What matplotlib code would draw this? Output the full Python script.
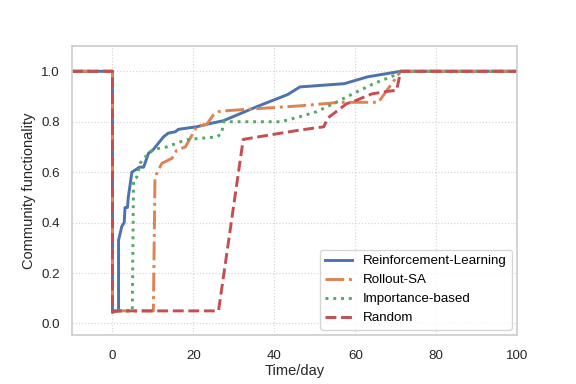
import matplotlib
matplotlib.use("Agg")
import matplotlib.pyplot as plt

plt.rcParams["font.family"] = ["Liberation Sans", "DejaVu Sans"]

# Series (time in days, community functionality)
rl_t = [-10, 0, 0, 1.5, 1.5, 2.3, 2.9, 3.1, 3.7, 3.9, 4.8, 6.7, 7.7, 8.9, 10.1,
        12.6, 13.8, 15.5, 16.3, 20.8, 24.1, 27.4, 35.7, 43.3, 46.3, 57.3, 63.0, 71.2, 100]
rl_y = [1.0, 1.0, 0.045, 0.05, 0.33, 0.385, 0.40, 0.46, 0.46, 0.50, 0.60, 0.62, 0.62, 0.675,
        0.69, 0.74, 0.755, 0.76, 0.77, 0.78, 0.793, 0.804, 0.86, 0.908, 0.938, 0.951,
        0.978, 1.0, 1.0]

sa_t = [-10, 0, 0, 0.5, 10.1, 10.5, 11.4, 12.2, 14.7, 15.9, 18.0, 19.2, 20.8, 23.3,
        24.9, 26.2, 27.4, 46.3, 56.2, 65.7, 68.5, 71.2, 100]
sa_y = [1.0, 1.0, 0.045, 0.05, 0.05, 0.58, 0.61, 0.635, 0.655, 0.688, 0.70, 0.734, 0.78,
        0.79, 0.826, 0.84, 0.843, 0.863, 0.877, 0.877, 0.94, 1.0, 1.0]

imp_t = [-10, 0, 0, 0.5, 4.9, 5.2, 6.0, 6.8, 8.1, 10.1, 13.4, 16.7, 18.8, 25.8, 27.0,
         27.4, 41.6, 46.3, 50.5, 54.6, 58.7, 61.2, 64.4, 70.6, 71.2, 100]
imp_y = [1.0, 1.0, 0.045, 0.05, 0.05, 0.57, 0.58, 0.635, 0.66, 0.69, 0.70, 0.72, 0.73,
         0.74, 0.754, 0.80, 0.80, 0.82, 0.84, 0.872, 0.905, 0.925, 0.95, 0.99, 1.0, 1.0]

rnd_t = [-10, 0, 0, 0.5, 26.2, 32.3, 36.0, 46.3, 52.2, 53.2, 57.9, 59.5, 64.0, 66.9,
         70.2, 71.2, 100]
rnd_y = [1.0, 1.0, 0.045, 0.05, 0.05, 0.73, 0.74, 0.767, 0.78, 0.815, 0.872, 0.88, 0.91,
         0.918, 0.925, 1.0, 1.0]

labels = ["Reinforcement-Learning", "Rollout-SA", "Importance-based", "Random"]
x_ticks = [0, 20, 40, 60, 80, 100]
y_ticks = [0.0, 0.2, 0.4, 0.6, 0.8, 1.0]

fig = plt.figure(figsize=(6, 4), dpi=96)
ax = fig.add_axes([0.125, 0.128, 0.773, 0.752])

ax.plot(rl_t, rl_y, color="#4c72b0", linestyle="-", linewidth=2.2, label=labels[0])
ax.plot(sa_t, sa_y, color="#dd8452", linestyle="-.", linewidth=2.2, label=labels[1])
ax.plot(imp_t, imp_y, color="#55a868", linestyle=":", linewidth=2.2, label=labels[2])
ax.plot(rnd_t, rnd_y, color="#c44e52", linestyle="--", linewidth=2.2, label=labels[3])

ax.set_xlim(-10, 100)
ax.set_ylim(-0.045, 1.1)
ax.set_xticks(x_ticks)
ax.set_yticks(y_ticks)
ax.set_xticklabels([str(v) for v in x_ticks])
ax.set_yticklabels([f"{v:.1f}" for v in y_ticks])
ax.tick_params(length=0, labelsize=10, colors="#262626")
ax.tick_params(axis="x", pad=11)
ax.tick_params(axis="y", pad=9)

ax.grid(True, color="#d5d5d5", linestyle=":", linewidth=0.9)
ax.set_axisbelow(True)
for spine in ax.spines.values():
    spine.set_color("#cccccc")
    spine.set_linewidth(1.25)

ax.set_xlabel("Time/day", fontsize=11, color="#262626", labelpad=2)
ax.set_ylabel("Community functionality", fontsize=11, color="#262626")

leg = ax.legend(loc="lower right", fontsize=10, frameon=True, fancybox=True,
                borderaxespad=0.4)
leg.get_frame().set_edgecolor("#cccccc")

fig.savefig("out.png", dpi=96)
